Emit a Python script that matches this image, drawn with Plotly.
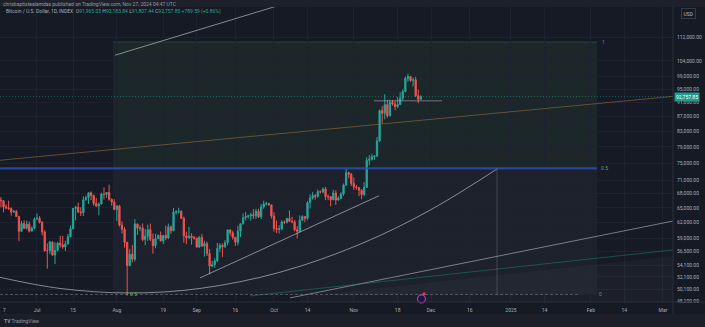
import math
import pandas as pd
import plotly.graph_objects as go

# ---------------- data (BTCUSD INDEX, daily) ----------------
start_date = "2024-06-17"
open_ = [66640, 66490, 65170, 64960, 64830, 64100, 64250, 63180, 60280, 61800, 60860, 61670, 60320, 60890,
         62680, 62850, 62030, 60170, 56660, 56660, 58230, 55860, 56710, 58050, 57720, 57340, 57900, 59230, 60790,
         64870, 65100, 64100, 63990, 66690, 67150, 68190, 67580, 65930, 65380, 65780, 67910, 67810, 68250, 66780, 66190,
         64620, 65350, 61500, 60700, 58160, 54020, 56030, 55130, 61710, 60880, 60940, 58710, 59350, 60600, 58740,
         57560, 58880, 59480, 58450, 59490, 59010, 61160, 60380, 64100, 64180, 64250, 62830, 59420, 59030, 59380, 59120,
         58970, 57320, 59130, 57480, 57970, 56160, 53950, 54160, 54870, 57050, 57650, 57340, 58130, 60550, 60000,
         59130, 58210, 60310, 61760, 62950, 63200, 63350, 63580, 63340, 64280, 63150, 65180, 65790, 65880, 65600,
         63330, 60810, 60650, 60750, 62090, 62050, 62820, 62220, 62130, 60580, 60270, 62450, 63190, 62850, 66050,
         67040, 67610, 67400, 68420, 68360, 69030, 67370, 67360, 66680, 68160, 66630, 67010, 67930, 69910, 72720, 72340,
         70220, 69490, 69350, 68740, 67810, 69370, 75640, 75900, 76540, 76700, 80470, 88700, 87950, 90400, 87250,
         91070, 90600, 89850, 90460, 92300, 94290, 98300, 98920, 97670, 97900, 93010, 91965.03]
high = [67250, 66490, 65700, 66480, 65050, 64500, 64500, 63350, 62300, 62450, 62380, 62200, 61200, 63000,
        63850, 63300, 62300, 60500, 58000, 58480, 58400, 58200, 58280, 59450, 59400, 58500, 59800, 61400, 64900,
        65400, 66100, 65100, 67450, 67600, 68370, 68500, 67800, 67100, 66150, 68200, 69400, 68300, 70000, 66980, 66800,
        65600, 65600, 62200, 61100, 58300, 57000, 57700, 62700, 61750, 61450, 61800, 60700, 61550, 61800, 59850,
        59800, 59700, 60250, 59600, 61400, 61800, 61400, 64950, 64500, 65000, 64500, 63200, 60200, 61150, 59900, 59400,
        59050, 59400, 59800, 58500, 58300, 56950, 54850, 55300, 58100, 58050, 57980, 58600, 60650, 60650, 60400,
        59200, 61350, 61800, 63850, 64100, 63550, 64000, 64700, 64800, 64800, 65800, 66480, 66250, 66050, 65600,
        64100, 62400, 61450, 62450, 62400, 62950, 64450, 63150, 62500, 61300, 63400, 63450, 63250, 66450, 67900,
        68400, 67900, 68950, 68700, 69400, 69500, 67850, 67450, 68850, 68750, 67400, 68300, 70250, 73600, 72950, 72650,
        71600, 69950, 69400, 69000, 70550, 76400, 76950, 77250, 76950, 81500, 89000, 89950, 93450, 91750, 91850,
        91800, 91500, 92650, 94050, 94950, 98950, 99800, 98950, 98600, 98850, 94950, 93183.84]
low = [65050, 64070, 64700, 64550, 63380, 63950, 63100, 58400, 60270, 60700, 60600, 60060, 60300, 60700,
       62550, 61800, 59500, 56500, 53500, 56030, 55750, 54280, 56550, 57200, 57000, 56600, 57800, 59200, 60650,
       62400, 63950, 63300, 63300, 66450, 65800, 66600, 65450, 65200, 63450, 65750, 66700, 67100, 66500, 65400, 64550,
       62300, 61200, 59850, 57200, 49050, 53900, 54600, 54750, 59600, 60300, 58400, 57650, 58450, 58450, 56100,
       57100, 58800, 58400, 57850, 58600, 58800, 59800, 60350, 63600, 63800, 62800, 58100, 57850, 58800, 57750, 58700,
       57200, 57150, 57450, 55600, 55700, 52550, 53750, 53650, 54600, 56400, 55550, 57200, 57650, 59450, 58700,
       57500, 57650, 59200, 61600, 62400, 62800, 62400, 62700, 62700, 62900, 62700, 64800, 65450, 65450, 62800,
       60200, 59950, 59850, 60450, 61700, 61800, 62150, 61850, 60300, 58900, 60080, 62450, 62050, 62450, 64850,
       66700, 66700, 67100, 68050, 68100, 66600, 66600, 65300, 66600, 65600, 66450, 66850, 67550, 69700, 71450, 69700,
       68800, 68850, 67450, 66800, 67450, 69300, 74500, 75600, 75800, 76500, 80250, 85100, 86250, 86700, 87100,
       90100, 88800, 89350, 90450, 91600, 94100, 97250, 97250, 95800, 92650, 90800, 91807.44]
close = [66490, 65170, 64960, 64830, 64100, 64250, 63180, 60280, 61800, 60860, 61670, 60320, 60890, 62680,
         62850, 62030, 60170, 56660, 56660, 58230, 55860, 56710, 58050, 57720, 57340, 57900, 59230, 60790, 64870,
         65100, 64100, 63990, 66690, 67150, 68190, 67580, 65930, 65380, 65780, 67910, 67810, 68250, 66780, 66190, 64620,
         65350, 61500, 60700, 58160, 54020, 56030, 55130, 61710, 60880, 60940, 58710, 59350, 60600, 58740, 57560,
         58880, 59480, 58450, 59490, 59010, 61160, 60380, 64100, 64180, 64250, 62830, 59420, 59030, 59380, 59120, 58970,
         57320, 59130, 57480, 57970, 56160, 53950, 54160, 54870, 57050, 57650, 57340, 58130, 60550, 60000, 59130,
         58210, 60310, 61760, 62950, 63200, 63350, 63580, 63340, 64280, 63150, 65180, 65790, 65880, 65600, 63330,
         60810, 60650, 60750, 62090, 62050, 62820, 62220, 62130, 60580, 60270, 62450, 63190, 62850, 66050, 67040,
         67610, 67400, 68420, 68360, 69030, 67370, 67360, 66680, 68160, 66630, 67010, 67930, 69910, 72720, 72340, 70220,
         69490, 69350, 68740, 67810, 69370, 75640, 75900, 76540, 76700, 80470, 88700, 87950, 90400, 87250, 91070,
         90600, 89850, 90460, 92300, 94290, 98300, 98920, 97670, 97900, 93010, 91968.26, 92757.85]
dates = pd.date_range(start_date, periods=len(close), freq="D")

last_price = 92757.85
price_ticks = [112000, 104000, 99000, 95000, 91000, 87000, 83000, 79000, 75000, 71000, 68000,
               65000, 62000, 59000, 56500, 54100, 52100, 50100, 48200]
price_tick_text = [f"{v:,.2f}" for v in price_ticks]
time_ticks = ["2024-06-17", "2024-07-01", "2024-07-15", "2024-08-01", "2024-08-19", "2024-09-01",
              "2024-09-16", "2024-10-01", "2024-10-14", "2024-11-01", "2024-11-18", "2024-12-01",
              "2024-12-16", "2025-01-01", "2025-01-14", "2025-02-01", "2025-02-14", "2025-03-01"]
time_tick_text = ["", "Jul", "15", "Aug", "19", "Sep", "16", "Oct", "14", "Nov", "18", "Dec",
                  "16", "2025", "14", "Feb", "14", "Mar"]
edge_tick_text = "7"   # the "17" label at the left edge, only its last digit is visible

# drawings (time, price anchors)
fib_t = ["2024-07-30 12:00", "2025-02-03 10:00"]
fib_1, fib_05, fib_0 = 110470, 73750, 49260
vline_t = "2024-12-26 14:00"
curve_t = ["2024-06-16 15:00", "2024-07-09 22:00", "2024-08-06 02:00", "2024-09-02 07:00",
           "2024-10-03 07:00", "2024-11-03 10:00", "2024-11-30 14:00", "2024-12-26 14:00"]
curve_p = [52020, 50210, 49490, 50210, 52880, 57840, 64500, 73590]
top_line_t = ["2024-07-31 07:00", "2024-10-11 02:00"]
top_line_p = [105900, 126760]
orange_t = ["2024-06-16 15:00", "2025-03-04 22:00"]
orange_p = [75670, 92830]
support_t = ["2024-09-02 07:00", "2024-11-10 19:00"]
support_p = [51930, 67560]
low_white_t = ["2024-10-07 05:00", "2025-03-04 22:00"]
low_white_p = [48710, 62300]
teal_t = ["2024-09-21 17:00", "2025-03-04 22:00"]
teal_p = [49020, 56800]
zone_t = ["2024-10-11 02:00", "2025-03-04 22:00", "2025-03-04 22:00", "2024-10-11 02:00"]
zone_p = [48870, 55710, 47000, 47000]
gray_seg_t = ["2024-11-08 19:00", "2024-12-05 05:00"]
gray_seg_p = [91560, 91560]

# ---------------- figure ----------------
BG = "#161a25"
GRID = "#1e2230"
TXT = "#a9acb5"
FONT = "Roboto"
WHITE_LINE = "rgba(200,203,212,0.62)"
x_range = ["2024-06-16 15:20", "2025-03-04 21:30"]
y_lo, y_hi = 48080, 123560

fig = go.Figure()

def add_line(t, p, color, width=1, dash=None, shape="linear", fill=None, fillcolor=None):
    fig.add_trace(go.Scatter(x=t, y=p, mode="lines", hoverinfo="skip", showlegend=False,
                             line=dict(color=color, width=width, dash=dash, shape=shape),
                             fill=fill, fillcolor=fillcolor))

shapes = [
    dict(type="rect", xref="x", yref="y", x0=fib_t[0], x1=fib_t[1], y0=fib_05, y1=fib_1,
         fillcolor="rgba(76,175,80,0.09)", line=dict(width=0), layer="below"),
    dict(type="rect", xref="x", yref="y", x0=fib_t[0], x1=fib_t[1], y0=fib_0, y1=fib_05,
         fillcolor="rgba(140,145,160,0.06)", line=dict(width=0), layer="below"),
    dict(type="line", xref="x", yref="y", x0=fib_t[0], x1=fib_t[1], y0=fib_1, y1=fib_1,
         line=dict(color="rgba(110,150,110,0.25)", width=1), layer="below"),
    dict(type="line", xref="x", yref="y", x0=vline_t, x1=vline_t, y0=fib_0, y1=fib_05,
         line=dict(color="rgba(140,145,155,0.35)", width=1)),
    dict(type="rect", xref="paper", yref="paper", x0=0, x1=705 / 673, y0=1, y1=1 + 7 / 295,
         fillcolor="#1e212b", line=dict(width=0)),
    dict(type="rect", xref="paper", yref="paper", x0=0, x1=705 / 673, y0=-25 / 295, y1=-12 / 295,
         fillcolor="#1c1f2a", line=dict(width=0)),
    dict(type="line", xref="paper", yref="paper", x0=1, x1=1, y0=-12 / 295, y1=1,
         line=dict(color="#2a2e39", width=1)),
    dict(type="line", xref="paper", yref="paper", x0=0, x1=705 / 673, y0=0, y1=0,
         line=dict(color="#2a2e39", width=1)),
]

add_line(zone_t, zone_p, "rgba(0,0,0,0)", fill="toself", fillcolor="rgba(200,205,215,0.04)")

fig.add_trace(go.Candlestick(
    x=dates, open=open_, high=high, low=low, close=close,
    increasing=dict(line=dict(color="#26a69a", width=1), fillcolor="#26a69a"),
    decreasing=dict(line=dict(color="#ef5350", width=1), fillcolor="#ef5350"),
    whiskerwidth=0, showlegend=False, hoverinfo="skip"))

add_line(curve_t, curve_p, WHITE_LINE, 1, shape="spline")
add_line(top_line_t, top_line_p, WHITE_LINE, 1)
add_line(orange_t, orange_p, "rgba(150,110,60,0.75)", 0.8)
add_line(support_t, support_p, WHITE_LINE, 1)
add_line(low_white_t, low_white_p, "rgba(200,203,212,0.55)", 1)
add_line(teal_t, teal_p, "rgba(38,140,130,0.45)", 1)
add_line(gray_seg_t, gray_seg_p, "rgba(170,172,180,0.4)", 1.6)
add_line([x_range[0], fib_t[1]], [fib_05, fib_05], "rgba(41,80,200,0.8)", 2.2)
add_line([x_range[0], "2025-01-27"], [fib_0, fib_0], "rgba(140,145,155,0.5)", 1, dash="3px,2px")
add_line(x_range, [last_price, last_price], "rgba(38,166,154,0.5)", 1, dash="1px,2px")

fig.add_trace(go.Scatter(x=["2024-11-27 06:00"], y=[48550], mode="markers", hoverinfo="skip",
                         showlegend=False, cliponaxis=False,
                         marker=dict(symbol="circle", size=8, color="#1d1830",
                                     line=dict(color="#9c3fc2", width=1.2))))
fig.add_trace(go.Scatter(x=["2024-11-28 06:00"], y=[49350], mode="markers", hoverinfo="skip",
                         showlegend=False, cliponaxis=False,
                         marker=dict(symbol="circle", size=3, color="#f23645")))

teal = "#26a69a"
legend_html = ("Bitcoin / U.S. Dollar, 1D, INDEX  "
               f"O<span style='color:{teal}'>91,965.03</span> "
               f"H<span style='color:{teal}'>93,183.84</span> "
               f"L<span style='color:{teal}'>91,807.44</span> "
               f"C<span style='color:{teal}'>92,757.85</span> "
               f"<span style='color:{teal}'>+789.59 (+0.86%)</span>")

ann = [
    dict(xref="paper", yref="paper", x=0.001, y=1 + 3.5 / 295, xanchor="left", yanchor="middle",
         text="chrisbaptistealamdas published on TradingView.com, Nov 27, 2024 04:47 UTC",
         showarrow=False, font=dict(size=5, color="#9598a1", family=FONT)),
    dict(xref="paper", yref="paper", x=4 / 673, y=(302 - 12) / 295, xanchor="left", yanchor="middle",
         text=legend_html, showarrow=False, font=dict(size=5, color="#a9acb5", family=FONT)),
    dict(xref="x", yref="y", x="2025-02-04 12:00", y=math.log10(fib_1), xanchor="left", yanchor="middle",
         text="1", showarrow=False, font=dict(size=5, color="#7c808b", family=FONT)),
    dict(xref="x", yref="y", x="2025-02-04 00:00", y=math.log10(fib_05), xanchor="left", yanchor="middle",
         text="0.5", showarrow=False, font=dict(size=5, color="#4caf50", family=FONT)),
    dict(xref="x", yref="y", x="2025-02-03 12:00", y=math.log10(fib_0), xanchor="left", yanchor="middle",
         text="0", showarrow=False, font=dict(size=5, color="#7c808b", family=FONT)),
    dict(xref="x", yref="y", x="2024-08-05 12:00", y=math.log10(fib_0), xanchor="left", yanchor="middle",
         text="0.5", showarrow=False, font=dict(size=5, color="#4caf50", family=FONT)),
    dict(xref="paper", yref="paper", x=1 / 673, y=-8 / 295, xanchor="left", yanchor="middle",
         text=edge_tick_text, showarrow=False, font=dict(size=5, color=TXT, family=FONT)),
    dict(xref="paper", yref="y", x=1, y=math.log10(last_price), xanchor="left", yanchor="middle",
         xshift=1, text=f"{last_price:,.2f}", showarrow=False, bgcolor="#1f9c8d",
         borderpad=1, font=dict(size=5, color="#ffffff", family=FONT)),
    dict(xref="paper", yref="paper", x=688 / 673, y=(302 - 13.5) / 295, xanchor="center",
         yanchor="middle", text="USD", showarrow=False, bordercolor="#363a45", borderwidth=1,
         borderpad=1.5, font=dict(size=5, color="#b2b5be", family=FONT)),
    dict(xref="paper", yref="paper", x=2 / 673, y=-(321 - 302) / 295, xanchor="left", yanchor="middle",
         text="<b>TV</b> TradingView", showarrow=False, font=dict(size=5, color="#9598a1", family=FONT)),
]

fig.update_layout(
    width=705, height=327, margin=dict(l=0, r=32, t=7, b=25),
    paper_bgcolor=BG, plot_bgcolor=BG, shapes=shapes, annotations=ann,
    font=dict(family=FONT, size=5, color=TXT),
    xaxis=dict(type="date", range=x_range, tickvals=time_ticks, ticktext=time_tick_text,
               showgrid=True, gridcolor=GRID, gridwidth=1, zeroline=False, showline=False,
               ticks="", tickfont=dict(size=5, color=TXT), rangeslider=dict(visible=False),
               ticklabelstandoff=4, fixedrange=True),
    yaxis=dict(type="log", range=[math.log10(y_lo), math.log10(y_hi)], side="right",
               tickvals=price_ticks, ticktext=price_tick_text, showgrid=True, gridcolor=GRID,
               gridwidth=1, zeroline=False, showline=False, ticks="",
               tickfont=dict(size=5, color=TXT), ticklabelstandoff=3, fixedrange=True),
)

fig.write_html("out.html")
